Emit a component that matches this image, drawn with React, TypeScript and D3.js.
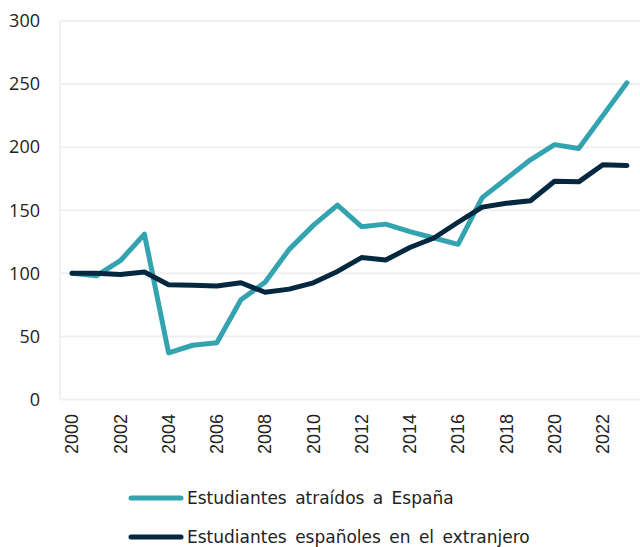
import React from "react";
import * as d3 from "d3";

const years = d3.range(2000, 2024).map(String);
const atraidos = [100, 98, 110, 131, 37, 43, 45, 79, 93, 119, 138, 154, 137, 139, 133, 128, 123, 160, 175, 190, 202, 199, 225, 251];
const espanoles = [100, 100, 99, 101, 91, 90.5, 90, 92.5, 85, 87.5, 92.5, 101.5, 112.5, 110.5, 120.5, 128, 140.5, 152.5, 155.5, 157.5, 173, 172.5, 186, 185.5];
const yTicks = [0, 50, 100, 150, 200, 250, 300];
const seriesNames = ["Estudiantes atraídos a España", "Estudiantes españoles en el extranjero"];
const colors = ["#33a3b0", "#03283f"];

export default function App() {
  const W = 640, H = 547;
  const left = 60, right = 639, top = 21, bottom = 399.5;
  const x = d3.scaleBand().domain(years).range([left, right]);
  const y = d3.scaleLinear().domain([0, 300]).range([bottom, top]);
  const line = d3.line<number>().x((_, i) => x(years[i])! + x.bandwidth() / 2).y((d) => y(d));
  const series = [atraidos, espanoles];
  return (
    <svg width={W} height={H} style={{ position: "absolute", left: 0, top: 0 }}>
      {yTicks.map((t) => (
        <g key={t}>
          <line x1={left} x2={W} y1={y(t)} y2={y(t)} stroke="#f0f0f0" strokeWidth={2} />
          <text x={40} y={y(t)} dy="0.35em" textAnchor="end" fontFamily="'Open Sans', sans-serif" fontSize={18} fill="#222">{t}</text>
        </g>
      ))}
      <line x1={left} x2={left} y1={top} y2={bottom} stroke="#f0f0f0" strokeWidth={2} />
      {years.filter((_, i) => i % 2 === 0).map((yr) => {
        const cx = x(yr)! + x.bandwidth() / 2;
        return (
          <text key={yr} transform={`translate(${cx},${414}) rotate(-90)`} dy="0.35em" textAnchor="end" fontFamily="'Liberation Sans', Arial, sans-serif" fontSize={18} fill="#222">{yr}</text>
        );
      })}
      {series.map((s, i) => (
        <path key={i} d={line(s)!} fill="none" stroke={colors[i]} strokeWidth={5} strokeLinejoin="round" strokeLinecap="round" />
      ))}
      {seriesNames.map((n, i) => (
        <g key={n} transform={`translate(0,${498 + i * 39})`}>
          <line x1={131} x2={181} y1={0} y2={0} stroke={colors[i]} strokeWidth={5} strokeLinecap="round" />
          <text x={187} y={0} dy="0.35em" fontFamily="'DejaVu Sans', sans-serif" fontSize={17} fill="#222" wordSpacing={3}>{n}</text>
        </g>
      ))}
    </svg>
  );
}
